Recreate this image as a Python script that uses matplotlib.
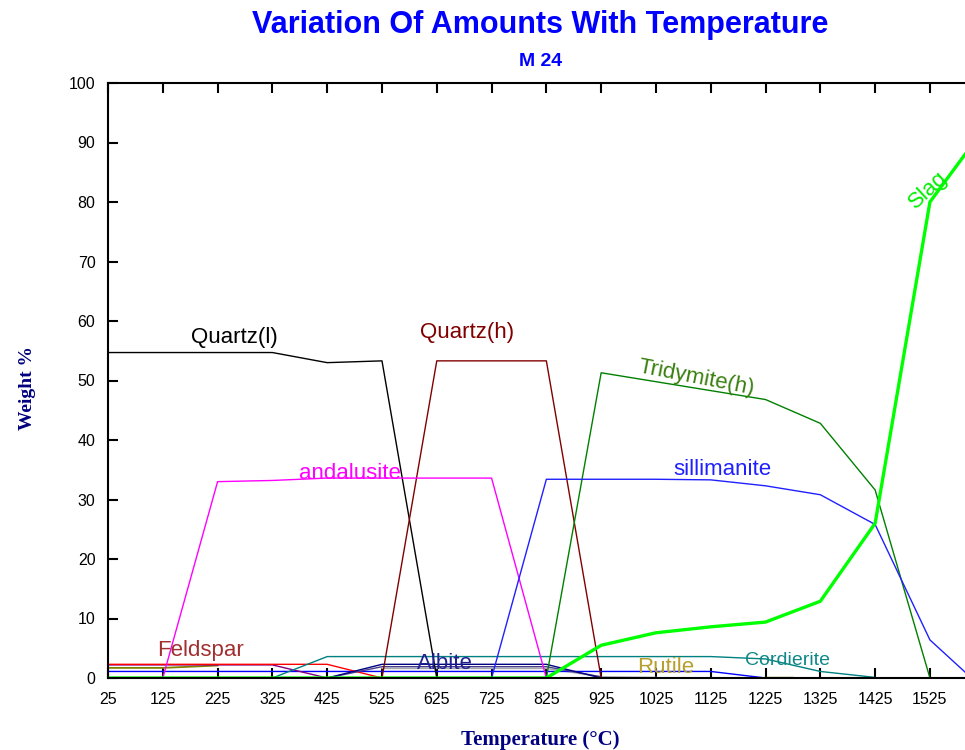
import numpy as np
import matplotlib
matplotlib.use("Agg")
import matplotlib.pyplot as plt

nan = np.nan

# ---- data (Temperature in deg C, Weight %) ----
t_quartz_l = [25, 125, 225, 325, 425, 525, 625]
w_quartz_l = [54.7, 54.7, 54.7, 54.7, 53.0, 53.3, 0.0]

t_quartz_h = [525, 625, 725, 825, 925]
w_quartz_h = [0.0, 53.3, 53.3, 53.3, 0.0]

t_andalusite = [125, 225, 325, 425, 525, 625, 725, 825]
w_andalusite = [0.0, 33.0, 33.2, 33.6, 33.6, 33.6, 33.6, 0.0]

t_tridymite = [825, 925, 1025, 1125, 1225, 1325, 1425, 1525]
w_tridymite = [0.0, 51.3, 49.8, 48.3, 46.8, 42.8, 31.6, 0.0]

t_sillimanite = [725, 825, 925, 1025, 1125, 1225, 1325, 1425, 1525, 1589]
w_sillimanite = [0.0, 33.4, 33.4, 33.4, 33.3, 32.3, 30.8, 25.8, 6.4, 1.0]

t_slag = [25, 125, 225, 325, 425, 525, 625, 725, 825, 925, 1025, 1125, 1225, 1325, 1425, 1525, 1589]
w_slag = [0, 0, 0, 0, 0, 0, 0, 0, 0, 5.5, 7.6, 8.6, 9.4, 12.9, 26.0, 80.0, 88.0]

t_feldspar = [25, 125, 225, 325, 425, 525]
w_feldspar = [2.3, 2.3, 2.3, 2.3, 2.3, 0.0]

t_violet = [25, 125, 225, 325, 425]
w_violet = [2.2, 2.2, 2.2, 2.2, 0.0]

t_rutile = [25, 125, 225, 325, 1225, 1275]
w_rutile = [1.7, 1.7, 2.1, nan, 0.05, 0.05]

t_blue_minor = [25, 125, 225, 325, 425, 525, 625, 725, 825, 925, 1025, 1125, 1225]
w_blue_minor = [1.1, 1.1, 1.1, 1.1, 1.1, 1.1, 1.1, 1.1, 1.1, 1.1, 1.1, 1.1, 0.0]

t_cordierite = [325, 425, 525, 625, 725, 825, 925, 1025, 1125, 1225, 1325, 1425]
w_cordierite = [0.0, 3.6, 3.6, 3.6, 3.6, 3.6, 3.6, 3.6, 3.6, 3.2, 1.1, 0.1]

t_albite = [425, 525, 625, 725, 825, 925]
w_albite = [0.0, 2.3, 2.3, 2.3, 2.3, 0.0]

t_slate = [425, 525, 625, 725, 825, 925]
w_slate = [0.0, 1.9, 1.9, 1.9, 1.9, 0.2]

t_gray = [525, 625, 725, 825, 925, 1025]
w_gray = [1.6, 1.6, 1.6, 1.6, 0.2, 0.1]

x_ticks = [25, 125, 225, 325, 425, 525, 625, 725, 825, 925, 1025, 1125, 1225, 1325, 1425, 1525]
y_ticks = [0, 10, 20, 30, 40, 50, 60, 70, 80, 90, 100]

# ---- figure ----
fig = plt.figure(figsize=(9.65, 7.5), dpi=100)
ax = fig.add_axes([108 / 965, 72 / 750, 857 / 965, 595 / 750])

thin = 1.0
ax.plot(t_gray, w_gray, color="#a8a8a8", lw=thin)
ax.plot(t_blue_minor, w_blue_minor, color="#0000ff", lw=thin)
ax.plot(t_rutile, w_rutile, color="#808000", lw=thin + 0.3)
ax.plot(t_violet, w_violet, color="#800080", lw=thin)
ax.plot(t_feldspar, w_feldspar, color="#ff0000", lw=thin)
ax.plot(t_slate, w_slate, color="#483d8b", lw=thin)
ax.plot(t_albite, w_albite, color="#000080", lw=thin)
ax.plot(t_cordierite, w_cordierite, color="#008080", lw=thin)
ax.plot(t_quartz_l, w_quartz_l, color="#000000", lw=thin)
ax.plot(t_quartz_h, w_quartz_h, color="#800000", lw=thin)
ax.plot(t_andalusite, w_andalusite, color="#ff00ff", lw=thin)
ax.plot(t_tridymite, w_tridymite, color="#008000", lw=thin)
ax.plot(t_sillimanite, w_sillimanite, color="#2020ff", lw=thin)
ax.plot(t_slag, w_slag, color="#00ff00", lw=2.4)

ax.set_xlim(25, 1589)
ax.set_ylim(0, 100)
ax.set_xticks(x_ticks)
ax.set_yticks(y_ticks)

tick_font = dict(family="Liberation Sans", size=11.5)
ax.set_xticklabels([str(v) for v in x_ticks], fontdict=tick_font)
ax.set_yticklabels([str(v) for v in y_ticks], fontdict=tick_font)
ax.tick_params(axis="x", direction="in", length=7, width=1.5, top=True, pad=10, colors="black")
ax.tick_params(axis="y", direction="in", length=7, width=1.5, left=True, right=False, pad=9)
for s in ["left", "bottom", "top"]:
    ax.spines[s].set_linewidth(1.5)
ax.spines["right"].set_visible(False)

lab = dict(family="Liberation Sans", size=16, ha="center", va="center")
ax.text(256, 57.3, "Quartz(l)", color="#000000", **lab)
ax.text(681, 58.0, "Quartz(h)", color="#800000", **lab)
ax.text(466, 34.3, "andalusite", color="#ff00ff", **lab)
ax.text(1098, 50.4, "Tridymite(h)", color="#3a8010", rotation=-11, **lab)
ax.text(1147, 35.1, "sillimanite", color="#2020ff", **lab)
ax.text(1521, 82.0, "Slag", color="#00ee00", rotation=43, **lab)
ax.text(194, 4.7, "Feldspar", color="#a03030", **lab)
ax.text(639, 2.5, "Albite", color="#202090", **lab)
ax.text(1043, 1.8, "Rutile", color="#b8a030", **lab)
ax.text(1265, 3.0, "Cordierite", color="#108888", family="Liberation Sans",
        size=14, ha="center", va="center")

fig.text(540 / 965, 1 - 25 / 750, "Variation Of Amounts With Temperature",
         family="Liberation Sans", weight="bold", size=22, color="#0000ff",
         ha="center", va="center")
fig.text(541 / 965, 1 - 62 / 750, "M 24", family="Liberation Sans",
         weight="bold", size=14, color="#0000ff", ha="center", va="center")
fig.text(540 / 965, 1 - 740 / 750, "Temperature (\u00b0C)", family="Liberation Serif",
         weight="bold", size=15, color="#000080", ha="center", va="center")
fig.text(28 / 965, 1 - 388 / 750, "Weight %", family="Liberation Serif",
         weight="bold", size=14, color="#000080", ha="center", va="center", rotation=90)

fig.savefig("out.png", dpi=100)
